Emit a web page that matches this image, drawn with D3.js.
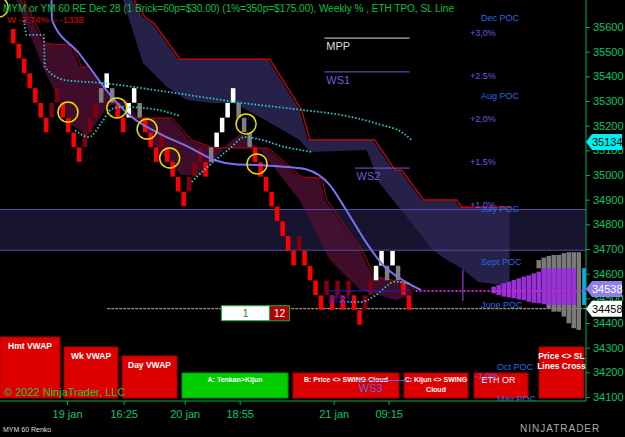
<!DOCTYPE html>
<html><head><meta charset="utf-8">
<script src="https://cdn.jsdelivr.net/npm/d3@7"></script>
<style>body{margin:0;background:#000}svg{display:block;font-family:Arial,"Liberation Sans",sans-serif}</style>
</head><body>
<script>
// ---- data ----
const brickSize = 60, topBrick = 35592;
const brickLevel = [0,1,2,3,4,5,6,5,4,5,6,7,8,7,6,5,4,3,4,5,6,5,4,5,6,7,
  8,7,8,9,10,11,10,9,8,9,8,7,6,5,4,5,6,7,8,9,10,11,12,
  13,14,15,14,15,16,17,18,17,18,17,18,17,18,19,18,17,16,15,16,15,16,17,18];
const brickType = "RRRRRRRDDRRRRDDDGWGRRWWGRRRDRRRRDDDRGWWWWGGGRRRRRRRRDRRRRDRDRDRRDDWWGWGRR".split("");
const priceTicks = [35600,35500,35400,35300,35200,35100,35000,34900,34800,34700,34600,34500,34400,34300,34200,34100];
const timeLabels = ["19 jan","16:25","20 jan","18:55","21 jan","09:15"];
const timeIdx = [10.2,20.5,31.6,41.6,58.7,68.7];
const navyTop = [[22,35709],[24,35640],[25.6,35616],[30.4,35470],[46.7,35470],[52.5,35264],[54,35142],[65.8,35142],[69.5,35020],[70.7,35020],[74.7,34899],[80.7,34899],[81.6,34870],[90.7,34870]];
const navyBot = [[20.4,35709],[24,35454],[28.4,35357],[32,35304],[36.7,35292],[40.4,35292],[45.3,35235],[52.5,35142],[54.4,35093],[64.7,35101],[67,34968],[72,34830],[76.7,34696],[79.3,34655],[81.6,34627],[85,34566],[90.7,34550]];
const maroonTop = [[2,35709],[5.8,35535],[7,35531],[10.7,35527],[12.5,35438],[13.8,35438],[18,35316],[21.6,35231],[28.9,35231],[32.5,35142],[36.7,35109],[46.5,35109],[52.5,34992],[56.2,34988],[57.1,34899],[63.5,34696],[65.8,34587],[72,34562],[73,34530]];
const maroonBot = [[1,35709],[5.8,35438],[11,35203],[14,35162],[17.5,35276],[21,35304],[26,35122],[31,35000],[35,35000],[39.5,35130],[42,35170],[45.3,35101],[52.5,34899],[58,34655],[63.5,34534],[70,34493],[73,34514]];
const cyanA = [[2,35628],[2.5,35568],[5.6,35568],[5.8,35438],[9.5,35385],[16.2,35373],[28.4,35336],[35.6,35312],[40.4,35296],[52.5,35264],[59.8,35243],[67,35203],[70.7,35174],[72.5,35142]];
const cyanB = [[11.3,35182],[13.8,35154],[16.2,35215],[18,35268],[19.8,35276],[25.3,35268],[30.4,35239]];
const cyanC = [[32.5,34972],[35.6,35037],[39.3,35105],[42.2,35154],[45.3,35142],[49.5,35113],[52.5,35101],[54.4,35093]];
const cyanD = [[59.5,34486],[63.5,34486],[65.8,34510],[69.5,34567],[72.2,34558]];
const slLine = [[7,35709],[7.1,35628],[12,35494],[18,35316],[21.6,35235],[26.5,35170],[32,35113],[36.7,35060],[40.4,35044],[45.3,35040],[50.2,35032],[53.3,35023],[57.6,34960],[60.5,34862],[64.2,34728],[67.3,34635],[71.5,34566],[74.2,34534]];
const circles = [[-2.7,35680],[10,35255],[18.9,35272],[24.4,35186],[28.5,35069],[42.4,35207],[44.4,35045]];
const refLines = [{n:"MPP",s:57,e:72.5,p:35555,c:"#dddddd"},{n:"WS1",s:57,e:72.5,p:35418,c:"#6f5fd8"},{n:"WS2",s:62.5,e:72.5,p:35028,c:"#6f5fd8"},{n:"WS3",s:62.9,e:72.9,p:34167,c:"#6f5fd8"},{n:"MS1",s:57.5,e:72.5,p:34530,c:"#2222d0"}];
const pctLabels = [["+3,0%",35576],["+2.5%",35401],["+2,0%",35227],["+1.5%",35053],["+1,0%",34878],["-1,0%",34185]];
const pocLabels = [["Dec POC",35640],["Aug POC",35324],["July POC",34866],["Sept POC",34651],["June POC",34477],["Oct POC",34226],["May POC",34096]];
const bandRange = [34860,34695];
const profPurple = [[34547,34520],[34554,34513],[34561,34507],[34567,34504],[34574,34500],[34581,34496],[34588,34493],[34593,34486],[34601,34482],[34608,34480],[34622,34476],[34622,34473],[34622,34473],[34622,34473],[34622,34473],[34622,34473],[34622,34473]];
const profGray = [null,null,null,null,null,null,null,null,null,[34655,34622],[34665,34601],[34672,34460],[34676,34446],[34676,34446],[34683,34426],[34687,34399],[34687,34379],[34687,34372]];
const buttons = [
 {t:["Hmt VWAP"],x:0,y:337,w:60,h:61,c:"#dd0000"},
 {t:["Wk VWAP"],x:64,y:347,w:54,h:51,c:"#dd0000"},
 {t:["Day VWAP"],x:122,y:356,w:55,h:42,c:"#dd0000"},
 {t:["A: Tenkan>Kijun"],x:182,y:373,w:106,h:25,c:"#00cc00"},
 {t:["B: Price <> SWING Cloud"],x:293,y:373,w:106,h:25,c:"#dd0000"},
 {t:["C: Kijun <> SWING","Cloud"],x:404,y:373,w:64,h:25,c:"#dd0000"},
 {t:[""],x:474,y:373,w:54,h:25,c:"#dd0000"},
 {t:["Price <> SL","Lines Cross"],x:539,y:347,w:45,h:51,c:"#dd0000"}];

// ---- chart ----
const W=625,H=437,axisX=586;
const svg=d3.select("body").append("svg").attr("width",W).attr("height",H);
svg.append("rect").attr("width",W).attr("height",H).attr("fill","#000");
const x=d3.scaleLinear().domain([-2,104.6]).range([0,axisX]);
const y=d3.scaleLinear().domain([34100,35600]).range([397,27]);
svg.append("clipPath").attr("id","c").append("rect").attr("width",axisX).attr("height",401);
const plot=svg.append("g").attr("clip-path","url(#c)");
const area=(top,bot)=>{const pts=top.map(d=>[x(d[0]),y(d[1])]).concat(bot.slice().reverse().map(d=>[x(d[0]),y(d[1])]));return "M"+pts.join("L")+"Z";};
const line=d3.line().x(d=>x(d[0])+2).y(d=>y(d[1]));
plot.append("rect").attr("x",0).attr("width",axisX).attr("y",y(bandRange[0])).attr("height",y(bandRange[1])-y(bandRange[0])).attr("fill","#16142e");
plot.append("path").attr("d",area(navyTop,navyBot)).attr("fill","#2a2550").attr("opacity",0.9);
plot.append("path").attr("d",line(navyTop)).attr("fill","none").attr("stroke","#e00000").attr("stroke-width",1.2);
plot.append("path").attr("d",area(maroonTop,maroonBot)).attr("fill","#4a0f30").attr("opacity",0.85);
plot.append("path").attr("d",line(maroonTop)).attr("fill","none").attr("stroke","#c00000").attr("stroke-width",1);
[bandRange[0],bandRange[1]].forEach(p=>plot.append("line").attr("x1",0).attr("x2",axisX).attr("y1",y(p)).attr("y2",y(p)).attr("stroke","#5a4aa8").attr("stroke-width",1));
plot.append("line").attr("x1",x(17.5)).attr("x2",axisX).attr("y1",y(34458)).attr("y2",y(34458)).attr("stroke","#c8b890").attr("stroke-dasharray","3,1");
const colors={R:"#ff0000",D:"#800010",W:"#ffffff",G:"#808080"};
plot.selectAll(".b").data(brickLevel).join("rect").attr("x",(d,i)=>x(i)).attr("width",4.5)
 .attr("y",d=>y(topBrick-brickSize*d)).attr("height",d=>y(topBrick-brickSize*(d+1))-y(topBrick-brickSize*d)-0.3)
 .attr("fill",(d,i)=>colors[brickType[i]]);
const dl=(data,col,dash,w)=>plot.append("path").attr("d",d3.line().x(d=>x(d[0])+2).y(d=>y(d[1])).curve(d3.curveMonotoneX)(data)).attr("fill","none").attr("stroke",col).attr("stroke-width",w).attr("stroke-dasharray",dash);
dl(slLine,"#7b6ff0",null,2);
[cyanA,cyanB,cyanC,cyanD].forEach(c=>dl(c,"#20d0d0","1.5,2",1.8));
plot.selectAll(".c").data(circles).join("circle").attr("cx",d=>x(d[0])+2).attr("cy",d=>y(d[1])).attr("r",10).attr("fill","none").attr("stroke","#e8e000").attr("stroke-width",1.5);
// profile
profGray.forEach((g,k)=>{if(g)plot.append("rect").attr("x",x(87.4+k*0.91)).attr("width",4.5).attr("y",y(g[0])).attr("height",y(g[1])-y(g[0])).attr("fill","#7a7a7a");});
profPurple.forEach((g,k)=>plot.append("rect").attr("x",x(87.4+k*0.91)).attr("width",4.5).attr("y",y(g[0])).attr("height",y(g[1])-y(g[0])).attr("fill","#9a30d8"));
plot.append("rect").attr("x",x(103.9)).attr("width",4).attr("y",y(34622)).attr("height",y(34473)-y(34622)).attr("fill","#10a8f0");
plot.append("line").attr("x1",x(73.6)).attr("x2",axisX).attr("y1",y(34530)).attr("y2",y(34530)).attr("stroke","#d020d0").attr("stroke-width",2).attr("stroke-dasharray","2,2");
plot.append("line").attr("x1",x(82.2)).attr("x2",x(82.2)).attr("y1",y(34615)).attr("y2",y(34490)).attr("stroke","#8a40d0").attr("stroke-width",1.2);
// 1|12 box
const bx=x(38.3),by=y(34470);
svg.append("rect").attr("x",bx).attr("y",by).attr("width",48).attr("height",15).attr("fill","#fff").attr("stroke","#10b040");
svg.append("rect").attr("x",bx+48).attr("y",by).attr("width",20).attr("height",15).attr("fill","#b00000").attr("stroke","#10b040");
svg.append("text").attr("x",bx+24).attr("y",by+11.5).attr("text-anchor","middle").attr("font-size",10).attr("fill","#208020").text("1");
svg.append("text").attr("x",bx+58).attr("y",by+11.5).attr("text-anchor","middle").attr("font-size",10).attr("fill","#fff").text("12");
// buttons
buttons.forEach(b=>{svg.append("rect").attr("x",b.x).attr("y",b.y).attr("width",b.w).attr("height",b.h).attr("fill",b.c).attr("stroke",b.c=="#00cc00"?"#009900":"#990000");
 b.t.forEach((t,j)=>svg.append("text").attr("x",b.x+b.w/2).attr("y",b.y+(b.h>30?12:9)+j*10).attr("text-anchor","middle").attr("font-size",b.h>30?8.5:7).attr("font-weight","bold").attr("fill","#fff").text(t));});
svg.append("text").attr("x",x(85.6)).attr("y",y(34226)+17).attr("font-size",9).attr("fill","#fff").text("ETH OR");
svg.append("text").attr("x",4).attr("y",396).attr("font-size",11).attr("fill","#20c040").text("© 2022 NinjaTrader, LLC");
// overlay labels (drawn above buttons)
const top2=svg.append("g").attr("clip-path","url(#c)");
refLines.forEach(r=>{top2.append("line").attr("x1",x(r.s)).attr("x2",x(r.e)).attr("y1",y(r.p)).attr("y2",y(r.p)).attr("stroke",r.c).attr("stroke-width",1);
 top2.append("text").attr("x",x(r.s)+2).attr("y",y(r.p)+12).attr("fill",r.c).attr("font-size",11).text(r.n);});
pctLabels.forEach(p=>top2.append("text").attr("x",x(p[0]=="-1,0%"?84.4:83.5)).attr("y",y(p[1])+3).attr("fill","#6a5ae0").attr("font-size",9).text(p[0]));
pocLabels.forEach(p=>top2.append("text").attr("x",x(p[0]=="Oct POC"||p[0]=="May POC"?88.4:85.5)).attr("y",y(p[1])+4).attr("fill","#2a6ae0").attr("font-size",9).text(p[0]));
// title
svg.append("text").attr("x",3).attr("y",12).attr("font-size",10).attr("fill","#00c040").text("MYM or YM 60 RE Dec 28 (1 Brick=60p=$30.00) (1%=350p=$175.00), Weekly % , ETH TPO, SL Line");
svg.append("text").attr("x",7).attr("y",23).attr("font-size",9.5).attr("fill","#e00000").text("W -3.74% = -1338");
// axes
const ax=svg.append("g").attr("transform",`translate(${axisX},0)`).call(d3.axisRight(y).tickValues(priceTicks).tickSize(4).tickFormat(d3.format("d")));
ax.select(".domain").attr("stroke","#00b050").attr("d","M0,0V401");
ax.selectAll("line").attr("stroke","#00b050");ax.selectAll("text").attr("fill","#00c864").attr("font-size",11).attr("font-family","Arial");
const bx2=svg.append("g").attr("transform","translate(0,401)").call(d3.axisBottom(x).tickValues(timeIdx).tickSize(4).tickFormat((d,i)=>timeLabels[i]));
bx2.select(".domain").attr("stroke","#00b050").attr("d","M0,0H"+axisX);
bx2.selectAll("line").attr("stroke","#00b050");bx2.selectAll("text").attr("fill","#00c864").attr("font-size",11).attr("font-family","Arial").attr("dy","0.9em");
const tag=(p,bg,fg)=>{const yy=y(p);svg.append("path").attr("d",`M${axisX},${yy}L${axisX+6},${yy-8}H${W-3}V${yy+8}H${axisX+6}Z`).attr("fill",bg);
 svg.append("text").attr("x",592).attr("y",yy+4).attr("font-size",11).attr("fill",fg).text(p);};
tag(35134,"#00f0f0","#000");tag(34538,"#8f7fe8","#fff");tag(34458,"#ffffff","#000");
svg.append("text").attr("x",3).attr("y",432).attr("font-size",7).attr("fill","#ddd").text("MYM 60 Renko");
svg.append("text").attr("x",520).attr("y",432).attr("font-size",10).attr("fill","#aaa").attr("letter-spacing",1).text("NINJATRADER");
</script></body></html>
